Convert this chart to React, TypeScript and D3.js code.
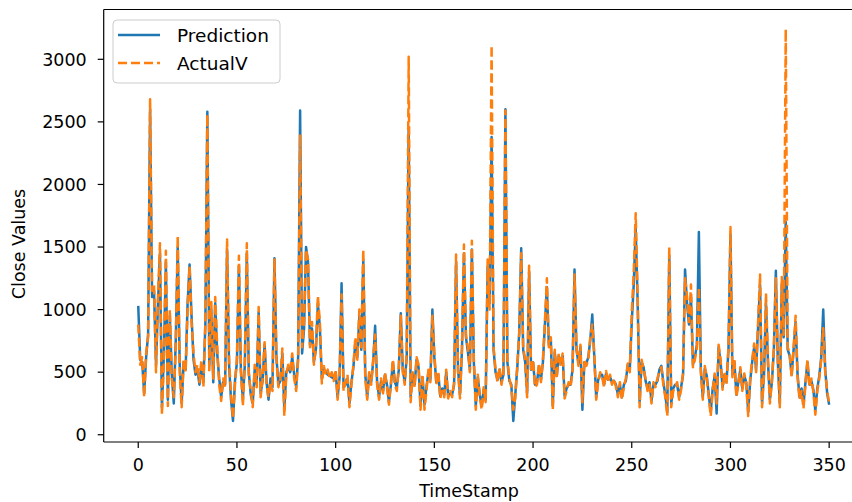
import React from "react";
import * as d3 from "d3";

const actualV: number[] = [
  880, 560, 620, 300, 650, 780, 2680, 1150, 1200, 500,
  1100, 1530, 160, 600, 1470, 230, 1000, 450, 300, 700,
  1590, 500, 220, 600, 500, 1000, 1350, 900, 650, 500,
  560, 420, 600, 380, 900, 2560, 500, 1060, 450, 1100,
  700, 400, 270, 450, 380, 1560, 600, 320, 130, 400,
  620, 1430, 500, 230, 600, 1530, 480, 350, 220, 560,
  380, 1020, 300, 450, 740, 400, 300, 420, 350, 1400,
  600, 380, 450, 690, 150, 480, 560, 520, 650, 450,
  350, 600, 2400, 700, 900, 1480, 1400, 700, 900, 560,
  700, 1110, 900, 410, 550, 480, 520, 450, 500, 430,
  520, 280, 480, 1120, 350, 420, 480, 220, 400, 560,
  780, 600, 1000, 700, 1480, 450, 280, 500, 400, 600,
  800, 400, 280, 450, 330, 500, 380, 240, 420, 600,
  400, 350, 550, 950, 500, 400, 650, 3020, 260, 500,
  380, 620, 560, 200, 480, 200, 350, 520, 420, 950,
  650, 400, 500, 290, 350, 300, 520, 290, 350, 300,
  420, 1440, 500, 290, 700, 1520, 800, 700, 500, 1550,
  600, 200, 480, 300, 200, 380, 260, 1400, 1000, 3110,
  700, 520, 420, 540, 400, 500, 2590, 600, 450, 380,
  200, 300, 550, 800, 1450, 700, 600, 300, 1350, 500,
  600, 380, 400, 570, 420, 600, 900, 1250, 700, 780,
  200, 680, 450, 650, 550, 650, 290, 350, 420, 380,
  500, 1280, 700, 550, 720, 260, 600, 550, 600, 780,
  880, 650, 280, 420, 500, 460, 380, 510, 420, 480,
  400, 450, 380, 300, 420, 280, 380, 450, 570, 500,
  980, 1300, 1770, 1100, 220, 600, 520, 450, 350, 400,
  250, 420, 380, 450, 500, 540, 400, 300, 150, 1500,
  220, 350, 380, 420, 280, 360, 500, 1250, 1100, 900,
  1200, 540, 600, 700, 1180, 500, 280, 550, 450, 300,
  150, 350, 490, 250, 720, 600, 360, 500, 400, 700,
  1660, 460, 600, 300, 400, 540, 350, 490, 400, 150,
  450, 600, 730, 500, 900, 1280, 220, 500, 1130, 600,
  250, 440, 700, 1250, 600, 220, 1260, 800, 3240, 700,
  650, 460, 700, 950, 460, 280, 350, 210, 400, 600,
  380, 450, 340, 160, 350, 450, 600, 850, 500, 350, 250,
];

const prediction: number[] = [
  1030, 600, 580, 330, 620, 800, 2600, 1100, 1150, 560,
  1050, 1450, 220, 650, 1380, 280, 950, 480, 250, 750,
  1500, 560, 250, 580, 520, 1050, 1360, 950, 600, 480,
  520, 400, 560, 420, 880, 2580, 560, 1000, 420, 1050,
  650, 450, 300, 420, 400, 1480, 560, 280, 110, 430,
  580, 1350, 520, 280, 560, 1450, 500, 320, 250, 520,
  400, 980, 330, 430, 720, 420, 280, 450, 380, 1410,
  620, 400, 430, 650, 200, 500, 540, 500, 620, 480,
  380, 620, 2590, 650, 850, 1500, 1380, 720, 850, 580,
  680, 1050, 860, 450, 520, 500, 480, 470, 460, 450,
  500, 300, 460, 1210, 380, 400, 450, 250, 420, 540,
  740, 620, 950, 680, 1400, 480, 300, 480, 420, 580,
  870, 420, 300, 430, 350, 480, 400, 260, 400, 580,
  420, 380, 520, 970, 520, 420, 620, 2450, 300, 480,
  400, 600, 540, 230, 460, 240, 380, 500, 440, 1000,
  620, 420, 480, 310, 370, 320, 500, 310, 330, 320,
  400, 1380, 520, 320, 680, 1450, 780, 660, 520, 1480,
  580, 230, 460, 320, 230, 360, 280, 1340, 1050, 2380,
  680, 500, 440, 520, 420, 480, 2600, 580, 430, 400,
  110, 320, 530, 820, 1490, 680, 580, 330, 1300, 520,
  580, 400, 420, 550, 440, 580, 880, 1180, 720, 760,
  230, 660, 470, 630, 570, 630, 310, 370, 400, 400,
  520, 1320, 680, 570, 700, 200, 580, 570, 620, 760,
  960, 630, 300, 440, 480, 480, 400, 490, 440, 460,
  420, 430, 400, 320, 400, 300, 400, 430, 560, 520,
  900, 1200, 1650, 1050, 260, 580, 540, 430, 370, 420,
  270, 400, 400, 430, 520, 550, 420, 320, 180, 1430,
  250, 370, 400, 400, 300, 380, 480, 1320, 1050, 880,
  1100, 560, 620, 720, 1620, 520, 300, 530, 470, 320,
  180, 370, 470, 170, 700, 580, 380, 480, 420, 680,
  1600, 480, 580, 320, 420, 520, 370, 470, 420, 180,
  430, 580, 700, 520, 860, 1200, 250, 480, 1050, 580,
  280, 420, 680, 1310, 580, 250, 1200, 780, 1700, 680,
  630, 480, 680, 900, 480, 300, 370, 240, 420, 580,
  400, 430, 360, 190, 370, 470, 620, 1000, 520, 330, 240,
];

const xTicks = [0, 50, 100, 150, 200, 250, 300, 350];
const yTicks = [0, 500, 1000, 1500, 2000, 2500, 3000];
const seriesNames = ["Prediction", "ActualV"];

export default function App() {
  const W = 852, H = 502;
  const left = 103.7, top = 9.5, bottom = 442, right = 863.7;
  const x = d3.scaleLinear().domain([-17.5, 367.5]).range([left, right]);
  const y = d3.scaleLinear().domain([-58, 3398]).range([bottom, top]);
  const line = d3.line<number>().x((_, i) => x(i)).y((d) => y(d));
  const font = "DejaVu Sans, sans-serif";
  const fs = 17.5;
  const lw = 2.5;

  return (
    <div style={{ position: "fixed", left: 0, top: 0, width: W, height: H, background: "#fff" }}>
      <svg width={W} height={H} style={{ display: "block" }} fontFamily={font}>
        <rect x={0} y={0} width={W} height={H} fill="#fff" />
        <defs>
          <clipPath id="plotclip">
            <rect x={left} y={top} width={right - left} height={bottom - top} />
          </clipPath>
        </defs>
        <g clipPath="url(#plotclip)">
          <path d={line(prediction) || ""} fill="none" stroke="#1f77b4" strokeWidth={lw} strokeLinejoin="round" />
          <path d={line(actualV) || ""} fill="none" stroke="#ff7f0e" strokeWidth={lw} strokeDasharray="9,4" strokeLinejoin="round" />
        </g>
        {/* spines */}
        <line x1={left} x2={left} y1={top} y2={bottom} stroke="#000" strokeWidth={1.2} />
        <line x1={left} x2={right} y1={bottom} y2={bottom} stroke="#000" strokeWidth={1.2} />
        <line x1={left} x2={right} y1={top} y2={top} stroke="#000" strokeWidth={1.2} />
        <line x1={right} x2={right} y1={top} y2={bottom} stroke="#000" strokeWidth={1.2} />
        {/* x ticks */}
        {xTicks.map((t) => (
          <g key={"x" + t}>
            <line x1={x(t)} x2={x(t)} y1={bottom} y2={bottom + 6} stroke="#000" strokeWidth={1.2} />
            <text x={x(t)} y={bottom + 29} textAnchor="middle" fontSize={fs} fill="#000">{t}</text>
          </g>
        ))}
        {/* y ticks */}
        {yTicks.map((t) => (
          <g key={"y" + t}>
            <line x1={left - 6} x2={left} y1={y(t)} y2={y(t)} stroke="#000" strokeWidth={1.2} />
            <text x={left - 17} y={y(t)} dy="0.36em" textAnchor="end" fontSize={fs} fill="#000">{t}</text>
          </g>
        ))}
        <text x={469} y={497} textAnchor="middle" fontSize={fs} fill="#000">TimeStamp</text>
        <text transform={`translate(25,244) rotate(-90)`} textAnchor="middle" fontSize={fs} fill="#000">Close Values</text>
        {/* legend */}
        <rect x={113} y={20} width={167} height={63} rx={4} fill="#fff" fillOpacity={0.8} stroke="#ccc" strokeWidth={1} />
        <line x1={118} x2={160} y1={35} y2={35} stroke="#1f77b4" strokeWidth={lw} />
        <line x1={118} x2={160} y1={63} y2={63} stroke="#ff7f0e" strokeWidth={lw} strokeDasharray="9,4" />
        <text x={177} y={35} dy="0.36em" fontSize={18.5} fill="#000">{seriesNames[0]}</text>
        <text x={177} y={63} dy="0.36em" fontSize={18.5} fill="#000">{seriesNames[1]}</text>
      </svg>
    </div>
  );
}
